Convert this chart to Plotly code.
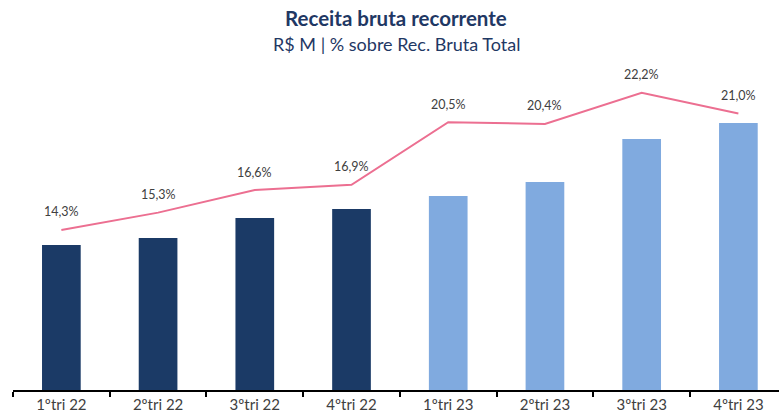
import plotly.graph_objects as go

categories = ["1ºtri 22", "2ºtri 22", "3ºtri 22", "4ºtri 22",
              "1ºtri 23", "2ºtri 23", "3ºtri 23", "4ºtri 23"]
receita = [145, 152, 172, 181, 194, 208, 251, 267]
pct = [14.3, 15.3, 16.6, 16.9, 20.5, 20.4, 22.2, 21.0]
pct_labels = ["14,3%", "15,3%", "16,6%", "16,9%", "20,5%", "20,4%", "22,2%", "21,0%"]
bar_colors = ["#1B3A66"] * 4 + ["#80AADF"] * 4

fig = go.Figure()
fig.add_trace(go.Bar(x=categories, y=receita, marker=dict(color=bar_colors, line=dict(width=0)),
                     width=0.4, hoverinfo="skip"))
fig.add_trace(go.Scatter(x=categories, y=pct, mode="lines", yaxis="y2",
                         line=dict(color="#EC6F91", width=2), hoverinfo="skip"))

for c, v, t in zip(categories, pct, pct_labels):
    fig.add_annotation(x=c, y=v, yref="y2", text=t, showarrow=False, yshift=18,
                       font=dict(family="Lato", size=12.5, color="#404040"))

# plot area: top at 60px, height 330px
fig.add_annotation(x=0.5, xref="paper", y=1.1258, yref="paper", yanchor="middle",
                   text="<b>Receita bruta recorrente</b>", showarrow=False,
                   font=dict(family="Lato", size=20.5, color="#1F3864"))
fig.add_annotation(x=0.5, xref="paper", y=1.0485, yref="paper", yanchor="middle",
                   text="R$ M | % sobre Rec. Bruta Total", showarrow=False,
                   font=dict(family="Lato", size=18, color="#1F3864"))

fig.update_layout(
    width=779, height=417,
    margin=dict(l=13, r=0, t=60, b=27),
    paper_bgcolor="white", plot_bgcolor="white",
    showlegend=False,
    xaxis=dict(type="category", range=[-0.5, 7.42], tickson="boundaries",
               ticks="outside", ticklen=5, tickwidth=1.5, tickcolor="black",
               showline=True, linecolor="black", linewidth=2,
               showgrid=False, tickfont=dict(family="Lato", size=15, color="#404040")),
    yaxis=dict(range=[0, 330], visible=False, showgrid=False),
    yaxis2=dict(range=[5.094, 24.08], overlaying="y", visible=False, showgrid=False),
)

fig.write_html("out.html", config={"displayModeBar": False},
               post_script="document.body.style.margin='0';document.body.style.overflow='hidden';")
